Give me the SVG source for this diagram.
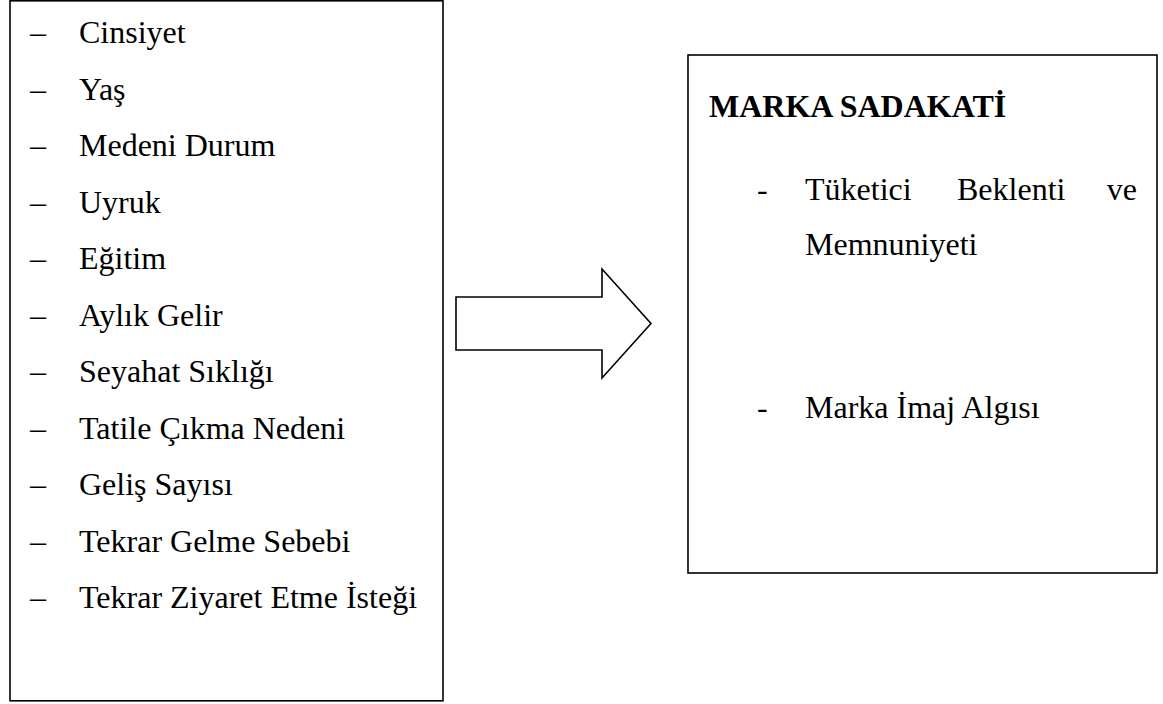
<svg xmlns="http://www.w3.org/2000/svg" width="1163" height="704" viewBox="0 0 1163 704">
<style>
.box{fill:#fff;stroke:#000;stroke-width:1.6}
text{font-family:'Liberation Serif','Times New Roman','DejaVu Serif',serif;font-size:32px;fill:#000}
.b{font-weight:bold}
</style>
<rect width="1163" height="704" fill="#fff"/>
<g id="left-box">
<rect class="box" x="10" y="0.8" width="433" height="700"/>
<g font-family="Liberation Serif, serif" font-size="32">
<text x="30" y="43">–</text><text x="79" y="43">Cinsiyet</text>
<text x="30" y="99.5">–</text><text x="79" y="99.5">Yaş</text>
<text x="30" y="156">–</text><text x="79" y="156">Medeni Durum</text>
<text x="30" y="212.5">–</text><text x="79" y="212.5">Uyruk</text>
<text x="30" y="269">–</text><text x="79" y="269">Eğitim</text>
<text x="30" y="325.5">–</text><text x="79" y="325.5">Aylık Gelir</text>
<text x="30" y="382">–</text><text x="79" y="382">Seyahat Sıklığı</text>
<text x="30" y="438.5">–</text><text x="79" y="438.5">Tatile Çıkma Nedeni</text>
<text x="30" y="495">–</text><text x="79" y="495">Geliş Sayısı</text>
<text x="30" y="551.5">–</text><text x="79" y="551.5">Tekrar Gelme Sebebi</text>
<text x="30" y="608">–</text><text x="79" y="608">Tekrar Ziyaret Etme İsteği</text>
</g>
</g>
<g id="connectors">
<polygon class="box" points="456,297 602,297 602,269 651,323.5 602,378 602,350 456,350"/>
</g>
<g id="right-box">
<rect class="box" x="688" y="55" width="469" height="518"/>
<g font-family="Liberation Serif, serif" font-size="32">
<text class="b" x="709" y="117">MARKA SADAKATİ</text>
<text x="757" y="200">-</text>
<text x="805" y="200">Tüketici</text>
<text x="957" y="200">Beklenti</text>
<text x="1137" y="200" text-anchor="end">ve</text>
<text x="805" y="255">Memnuniyeti</text>
<text x="757" y="418">-</text>
<text x="805" y="418">Marka İmaj Algısı</text>
</g>
</g>
</svg>
